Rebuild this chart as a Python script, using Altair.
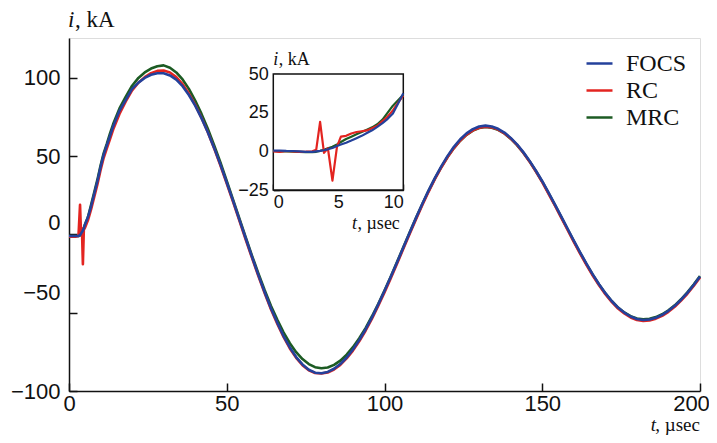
import altair as alt
import pandas as pd

# ---------------- data ----------------
series = ["FOCS", "RC", "MRC"]
colors = ["#24419b", "#e32420", "#1c5b23"]

t_main = [0, 2, 3, 3.5, 3.8, 4.1, 4.4, 4.7, 5, 6, 7, 8, 9, 10, 11, 12, 13, 14, 15,
          16, 18, 20, 22, 24, 26, 28, 30, 32, 34, 36, 38, 40, 42, 44, 46, 48, 50,
          52, 54, 56, 58, 60, 62, 64, 66, 68, 70, 72, 74, 76, 78, 80, 82, 84, 86,
          88, 90, 92, 94, 96, 98, 100, 102, 104, 106, 108, 110, 112, 114, 116, 118,
          120, 122, 124, 126, 128, 130, 132, 134, 136, 138, 140, 142, 144, 146, 148,
          150, 152, 154, 156, 158, 160, 162, 164, 166, 168, 170, 172, 174, 176, 178,
          180, 182, 184, 186, 188, 190, 192, 194, 196, 198, 200]

i_focs = [-1, -1, -1, -0.5, 0.5, 1.5, 2.5, 4, 6, 11, 18, 26, 34, 43, 51, 57, 63, 69, 74,
          79, 86, 93, 97, 100, 102, 103, 103, 101.6, 98.9, 94.7, 89.1, 82.3, 74.3, 65.3, 55.3, 44.6, 33.2,
          21.5, 9.5, -2.4, -14.3, -25.8, -36.8, -47.1, -56.3, -64.9, -72.2, -78.3, -83.0, -86.4, -88.3, -88.7, -87.8, -85.8, -82.8,
          -78.6, -73.5, -67.5, -60.7, -53.1, -44.8, -36.1, -27.0, -17.7, -8.2, 1.3, 10.6, 19.6, 28.2, 36.2, 43.5,
          50.2, 56.0, 60.8, 64.6, 67.3, 69.0, 69.5, 69.0, 67.5, 65.1, 61.7, 57.6, 52.6, 47.0, 40.7,
          34.0, 26.7, 19.2, 11.5, 3.8, -3.9, -11.4, -18.6, -25.5, -31.8, -37.5, -42.5, -46.7, -49.9, -52.4,
          -54.0, -54.6, -54.3, -53.2, -51.4, -48.8, -45.6, -41.7, -37.3, -32.3, -26.9]

i_rc = [-1.5, -1.5, -1, 19, 1, 4, -19, 3, 4, 9, 16, 24, 32, 41, 49, 55, 61, 67, 72,
        77, 85, 92, 97, 100.5, 103, 104.5, 104.7, 103.5, 100.5, 96, 90, 82.8, 74.5, 65.3, 55.0, 44.0, 32.5,
        20.8, 8.8, -3.2, -15.0, -26.5, -37.5, -47.8, -57.0, -65.5, -72.8, -78.8, -83.5, -86.8, -88.5, -88.8, -88.2, -86.3, -83.3,
        -79.2, -74.2, -68.2, -61.5, -54.0, -45.6, -37.0, -28.0, -18.6, -9.0, 0.5, 9.8, 18.8, 27.4, 35.5, 42.8,
        49.5, 55.2, 60.0, 63.8, 66.5, 68.2, 68.8, 68.4, 67.0, 64.6, 61.3, 57.2, 52.2, 46.5, 40.2,
        33.4, 26.0, 18.5, 10.8, 3.0, -4.7, -12.2, -19.4, -26.2, -32.5, -38.2, -43.1, -47.3, -50.5, -53.0,
        -54.6, -55.2, -54.9, -53.8, -52.0, -49.4, -46.2, -42.3, -37.9, -32.9, -27.5]

i_mrc = [-1, -1, -1, -0.5, 0.5, 1.5, 2.5, 4, 6, 11, 19, 27, 35, 44, 52, 58, 64.5, 70.5, 75.5,
         80.5, 88, 95, 100, 103.5, 106, 107.5, 108, 106.5, 103.5, 99, 93, 85.5, 77, 67.5, 57, 46, 34.2,
         22.3, 10.2, -1.8, -13.5, -24.8, -35.5, -45.5, -54.4, -62.5, -69.5, -75.2, -79.6, -82.8, -84.8, -85.5, -85.0, -83.3, -80.6,
         -76.8, -72.0, -66.3, -59.8, -52.4, -44.4, -35.8, -26.8, -17.5, -8.0, 1.4, 10.6, 19.5, 28.0, 35.8, 43.0,
         49.5, 55.2, 59.9, 63.6, 66.3, 68.0, 68.6, 68.2, 66.8, 64.5, 61.2, 57.1, 52.2, 46.6, 40.4,
         33.7, 26.4, 18.9, 11.2, 3.5, -4.2, -11.7, -18.9, -25.7, -32.0, -37.6, -42.5, -46.6, -49.8, -52.2,
         -53.7, -54.2, -53.9, -52.8, -51.0, -48.5, -45.3, -41.4, -37.0, -32.0, -26.6]

# inset (0..10 usec)
t_in = [0, 0.5, 1, 1.5, 2, 2.5, 3, 3.3, 3.6, 3.9, 4.2, 4.55, 4.9, 5.2, 5.6, 6, 6.4, 6.8,
        7.2, 7.6, 8, 8.4, 8.8, 9.2, 9.6, 10]
in_focs = [0.5, 0.5, 0.3, 0.2, 0, -0.3, -0.3, 0, 0.3, 0.7, 1.3, 2.2, 3.5, 4.4, 5.6, 7, 8.5, 10,
           11.8, 13.6, 15.8, 18.2, 21, 24.5, 31, 37.5]
in_rc = [0, -0.3, 0.2, 0, -0.3, -0.2, 0, 1, 19, -1, 2, -19, 3, 9.5, 10, 11.5, 12.5, 13,
         13.5, 15, 16.5, 19.5, 22.5, 26.5, 31.5, 36]
in_mrc = [0.2, 0, 0, -0.2, -0.3, -0.5, -0.5, -0.3, 0.3, 1, 2, 3, 4.5, 6, 8, 9.5, 11, 12.5,
          14, 15.5, 17.5, 20.5, 25, 29.5, 33, 36.5]

x_ticks = [0, 50, 100, 150, 200]
y_ticks = [-100, -50, 0, 50, 100]
x_ticks_in = [0, 5, 10]
y_ticks_in = [-25, 0, 25, 50]

# ---------------- tables ----------------
main_vals = {"FOCS": i_focs, "RC": i_rc, "MRC": i_mrc}
in_vals = {"FOCS": in_focs, "RC": in_rc, "MRC": in_mrc}
col_of = dict(zip(series, colors))
draw_order = ["MRC", "RC", "FOCS"]

main_df = pd.DataFrame([
    {"t": t, "i": v, "s": s, "ord": k}
    for k, s in enumerate(draw_order) for t, v in zip(t_main, main_vals[s])
])
in_df = pd.DataFrame([
    {"t": t, "i": v, "s": s, "c": col_of[s], "ord": k}
    for k, s in enumerate(draw_order) for t, v in zip(t_in, in_vals[s])
])
frame_df = pd.DataFrame([{"x0": x_ticks_in[0], "x1": x_ticks_in[-1],
                          "y0": y_ticks_in[0], "y1": y_ticks_in[-1]}])

W, H = 631, 353
INK = "#111111"
SANS = "Liberation Sans"
SERIF = "Liberation Serif"

xs_main = alt.Scale(domain=[0, 200], nice=False, zero=False)
ys_main = alt.Scale(domain=[-100, 125.5], nice=False, zero=False)
# inset placed inside the plot area
IX0, IX1, IY0, IY1 = 204.3, 334.3, 152, 36
xs_in = alt.Scale(domain=[0, 10], nice=False, zero=False, range=[IX0, IX1])
ys_in = alt.Scale(domain=[-25, 50], nice=False, zero=False, range=[IY0, IY1])

y_label_offset = {"condition": [{"test": "datum.value === 0", "value": -12},
                                {"test": "datum.value === -50", "value": -20}],
                  "value": 0}
x_label_offset = {"condition": [{"test": "datum.value === 200", "value": -9}], "value": 0}

main_lines = alt.Chart(main_df).mark_line(strokeWidth=2.6, strokeJoin="round").encode(
    x=alt.X("t:Q", scale=xs_main,
            axis=alt.Axis(orient="bottom", values=x_ticks, ticks=False, grid=False, title=None,
                          labelFont=SANS, labelFontSize=22, labelColor=INK, labelPadding=2,
                          labelFlush=False, labelOffset=x_label_offset,
                          domainColor=INK, domainWidth=1.5)),
    y=alt.Y("i:Q", scale=ys_main,
            axis=alt.Axis(orient="left", values=y_ticks, ticks=False, grid=False, title=None,
                          labelFont=SANS, labelFontSize=22, labelColor=INK, labelPadding=9,
                          labelFlush=False, labelOffset=y_label_offset,
                          domainColor=INK, domainWidth=1.5)),
    color=alt.Color("s:N", scale=alt.Scale(domain=series, range=colors),
                    legend=alt.Legend(orient="none", legendX=516, legendY=11, title=None,
                                      symbolType="stroke", symbolSize=676, symbolStrokeWidth=2.5,
                                      labelFont=SERIF, labelFontSize=24, labelColor=INK,
                                      labelOffset=12, rowPadding=0, padding=0)),
    detail="s:N",
    order="ord:Q",
)

main_ticks = alt.Chart(main_df).mark_point(opacity=0).encode(
    x=alt.X("t:Q", scale=xs_main,
            axis=alt.Axis(orient="top", offset=-H, values=x_ticks, labels=False, domain=False,
                          grid=False, title=None, tickSize=8, tickWidth=1.5, tickColor=INK)),
    y=alt.Y("i:Q", scale=ys_main,
            axis=alt.Axis(orient="right", offset=-W, values=y_ticks, labels=False, domain=False,
                          grid=False, title=None, tickSize=8, tickWidth=1.5, tickColor=INK)),
)

inset_frame = alt.Chart(frame_df).mark_rect(fill="white", stroke=INK, strokeWidth=1.5).encode(
    x=alt.X("x0:Q", scale=xs_in, axis=None),
    x2="x1:Q",
    y=alt.Y("y0:Q", scale=ys_in, axis=None),
    y2="y1:Q",
)

inset_lines = alt.Chart(in_df).mark_line(strokeWidth=2.2, strokeJoin="round").encode(
    x=alt.X("t:Q", scale=xs_in,
            axis=alt.Axis(orient="bottom", offset=-(H - IY0), values=x_ticks_in, ticks=False,
                          grid=False, title=None, labelFont=SANS, labelFontSize=18,
                          labelColor=INK, labelPadding=3, labelFlush=True,
                          domainColor=INK, domainWidth=1.5)),
    y=alt.Y("i:Q", scale=ys_in,
            axis=alt.Axis(orient="left", offset=-IX0, values=y_ticks_in, ticks=False,
                          grid=False, title=None, labelFont=SANS, labelFontSize=18,
                          labelColor=INK, labelPadding=5, labelFlush=False,
                          domainColor=INK, domainWidth=1.5)),
    color=alt.Color("c:N", scale=None),
    detail="s:N",
    order="ord:Q",
)

inset_ticks = alt.Chart(in_df).mark_point(opacity=0).encode(
    x=alt.X("t:Q", scale=xs_in,
            axis=alt.Axis(orient="top", offset=-IY0, values=x_ticks_in, labels=False,
                          domain=False, grid=False, title=None, tickSize=6, tickWidth=1.5,
                          tickColor=INK)),
    y=alt.Y("i:Q", scale=ys_in,
            axis=alt.Axis(orient="right", offset=-(W - IX0), values=y_ticks_in, labels=False,
                          domain=False, grid=False, title=None, tickSize=6, tickWidth=1.5,
                          tickColor=INK)),
)

one = alt.Data(values=[{}])


def label(txt, x, y, size, italic=False, align="left"):
    return alt.Chart(one).mark_text(
        font=SERIF, fontSize=size, fontStyle="italic" if italic else "normal",
        align=align, baseline="alphabetic", color=INK,
    ).encode(x=alt.value(x), y=alt.value(y), text=alt.value(txt))


texts = [
    label("i", -1, -11, 23, italic=True),
    label(", kA", 6, -11, 23),
    label("t", 587, 393, 19, italic=True, align="right"),
    label(", µsec", 631, 393, 19, align="right"),
    label("i", IX0, 27, 18, italic=True),
    label(", kA", IX0 + 5.5, 27, 18),
    label("t", 283, 191, 18, italic=True),
    label(", µsec", 288.5, 191, 18),
]

chart = alt.layer(main_lines, main_ticks, inset_frame, inset_lines, inset_ticks, *texts).resolve_scale(
    x="independent", y="independent", color="independent"
).resolve_axis(x="independent", y="independent").properties(
    width=W, height=H,
    autosize=alt.AutoSizeParams(type="none"),
    padding={"left": 61, "top": 30, "right": 9, "bottom": 44},
).configure_view(stroke=INK, strokeWidth=1.5).configure(background="white")

chart.save("out.html", embed_options={"renderer": "svg", "actions": False})
